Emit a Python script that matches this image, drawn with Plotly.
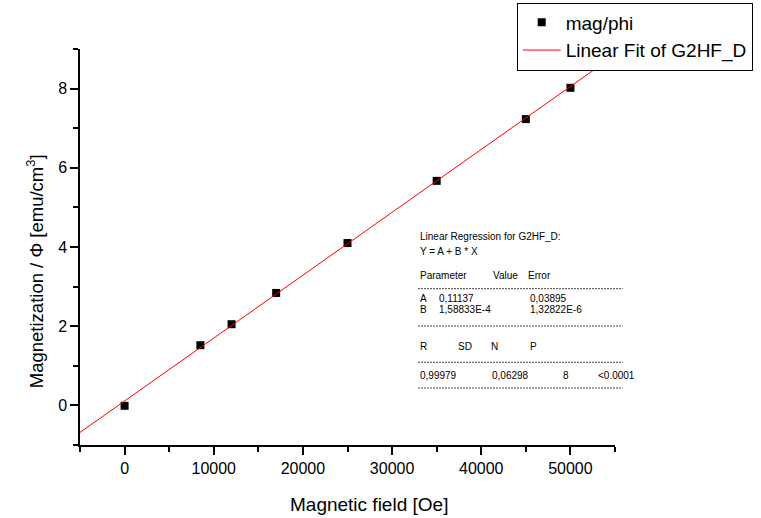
import plotly.graph_objects as go

# ---- data ----
field_oe = [0, 8500, 12000, 17000, 25000, 35000, 45000, 50000]
mag_phi = [-0.01, 1.52, 2.05, 2.84, 4.10, 5.67, 7.23, 8.02]

fit_A = 0.11137
fit_B = 1.58833e-4
fit_x = [-5000, 55000]
fit_y = [fit_A + fit_B * x for x in fit_x]

series_names = ["mag/phi", "Linear Fit of G2HF_D"]
x_title = "Magnetic field [Oe]"
y_title = "Magnetization / \u03a6 [emu/cm<sup>3</sup>]"

reg_header = ["Linear Regression for G2HF_D:", "Y = A + B * X"]
param_cols = ["Parameter", "Value", "Error"]
param_A = ["A", "0,11137", "0,03895"]
param_B = ["B", "1,58833E-4", "1,32822E-6"]
stat_cols = ["R", "SD", "N", "P"]
stat_vals = ["0,99979", "0,06298", "8", "<0.0001"]

# ---- layout geometry ----
W, H = 761, 518
L, R, T, B = 80, 146, 49, 73
PW, PH = W - L - R, H - T - B


def px(x):
    return (x - L) / PW


def py(y):
    return (H - B - y) / PH


FONT = "Liberation Sans, Arial, sans-serif"

fig = go.Figure()
fig.add_trace(go.Scatter(
    x=field_oe, y=mag_phi, mode="markers", name=series_names[0],
    marker=dict(symbol="square", size=8, color="black"),
))
fig.add_trace(go.Scatter(
    x=fit_x, y=fit_y, mode="lines", name=series_names[1],
    line=dict(color="#ff0000", width=1),
))

annotations = []


def txt(s, x, y, anchor="left"):
    annotations.append(dict(
        text=s, x=px(x), y=py(y), xref="paper", yref="paper",
        xanchor=anchor, yanchor="middle", showarrow=False,
        font=dict(family=FONT, size=10, color="black"),
    ))


txt(reg_header[0], 418, 236)
txt(reg_header[1], 418, 251)
for s, x in zip(param_cols, [418, 491, 526]):
    txt(s, x, 275.5)
for s, x in zip(param_A, [418, 436.7, 527.7]):
    txt(s, x, 298.5)
for s, x in zip(param_B, [418, 436.7, 527.7]):
    txt(s, x, 309.5)
for s, x in zip(stat_cols, [418, 456, 489, 527.7]):
    txt(s, x, 346.7)
for s, x, a in zip(stat_vals, [418, 490, 565.7, 596], ["left", "left", "center", "left"]):
    txt(s, x, 375, a)

shapes = []
for yy in [288.7, 326, 362.3, 388]:
    shapes.append(dict(
        type="line", xref="paper", yref="paper",
        x0=px(418), x1=px(622.7), y0=py(yy), y1=py(yy),
        line=dict(color="#444444", width=1, dash="2px,1px"),
    ))

annotations.append(dict(
    text=x_title, x=px(369), y=py(504), xref="paper", yref="paper",
    xanchor="center", yanchor="middle", showarrow=False,
    font=dict(family=FONT, size=19, color="black"),
))
annotations.append(dict(
    text=y_title, x=px(34.5), y=py(271.7), xref="paper", yref="paper",
    xanchor="center", yanchor="middle", showarrow=False, textangle=-90,
    font=dict(family=FONT, size=18.5, color="black"),
))

axis_common = dict(
    showline=True, linecolor="black", linewidth=1.5,
    ticks="outside", tickcolor="black", tickwidth=1.5, ticklen=8,
    showgrid=False, zeroline=False, mirror=False,
    tickfont=dict(family=FONT, size=16, color="black"),
)

fig.update_layout(
    width=W, height=H,
    margin=dict(l=L, r=R, t=T, b=B, autoexpand=False),
    paper_bgcolor="white", plot_bgcolor="white",
    font=dict(family=FONT, color="black"),
    xaxis=dict(range=[-5000, 55000], tick0=0, dtick=10000, tickformat="d",
               minor=dict(ticks="outside", ticklen=5, tickwidth=1.5, tickcolor="black",
                          tick0=-5000, dtick=5000),
               **axis_common),
    yaxis=dict(range=[-1, 9], tick0=0, dtick=2,
               minor=dict(ticks="outside", ticklen=5, tickwidth=1.5, tickcolor="black",
                          tick0=-1, dtick=1),
               **axis_common),
    showlegend=True,
    legend=dict(x=px(516.7), y=py(2.5), xanchor="left", yanchor="top",
                bgcolor="white", bordercolor="black", borderwidth=1,
                font=dict(family=FONT, size=19, color="black"),
                itemwidth=38, tracegroupgap=0),
    annotations=annotations,
    shapes=shapes,
)

fig.write_html("out.html", config={"displayModeBar": False},
               post_script="document.body.style.margin='0';")
